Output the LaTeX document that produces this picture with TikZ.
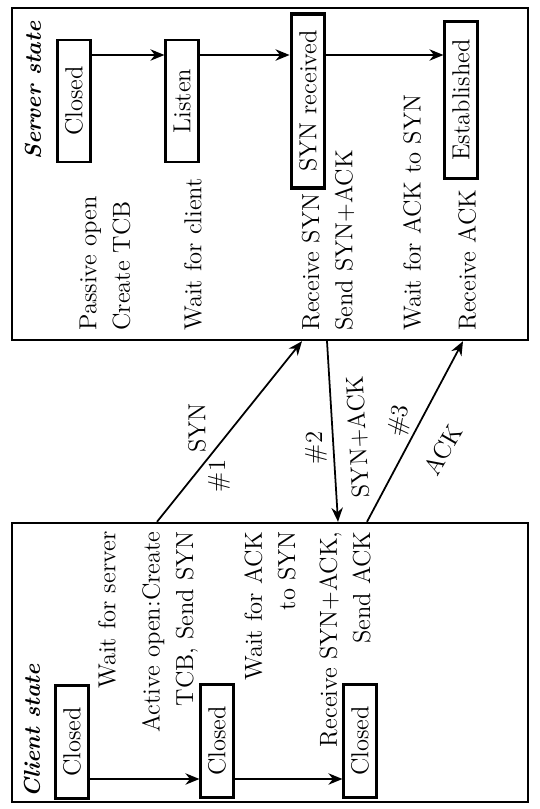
\documentclass[tikz,border=0pt]{standalone}
\usetikzlibrary{arrows.meta,calc}
\tikzset{
	frame/.style={shape=rectangle, draw, line width=1.4pt},
	stbox/.style={shape=rectangle, draw, line width=1.2pt, rotate=90, inner sep=2pt, minimum height=0.66cm, font=\fontsize{14}{16}\selectfont},
	txt/.style={rotate=90, inner sep=0pt, font=\fontsize{14}{19}\selectfont},
	ttl/.style={rotate=90, inner sep=0pt, font=\fontsize{13}{15}\selectfont\bfseries\itshape},
	lbl/.style={inner sep=0pt, font=\fontsize{14}{16}\selectfont},
	arr/.style={line width=1pt, -{Stealth[length=8pt, width=6.5pt]}},
}
\begin{document}
\begin{tikzpicture}[x=0.02cm, y=-0.02cm]
	\useasboundingbox (0,0) rectangle (540,809);
	% Frames:
	\node[frame, minimum width=10.32cm, minimum height=6.64cm] (server) at (270,174){};
	\node[frame, minimum width=10.32cm, minimum height=5.58cm] (client) at (270,662.5){};
	\node[ttl, anchor=west] (servertitle) at (33,160){Server state};
	\node[ttl, anchor=west] (clienttitle) at (32,798){Client state};
	% Server states:
	\node[stbox, minimum width=2.44cm] (sclosed) at (74,101){Closed};
	\node[stbox, minimum width=2.44cm] (slisten) at (182,101){Listen};
	\node[stbox, minimum width=3.48cm, line width=2.2pt] (ssynrcvd) at (308,101){SYN received};
	\node[stbox, minimum width=3.14cm] (sestab) at (461,100){Established};
	\coordinate (srow) at (0,55);
	\draw[arr] (sclosed.south |- srow) -- (slisten.north |- srow);
	\draw[arr] (slisten.south |- srow) -- (ssynrcvd.north |- srow);
	\draw[arr] (ssynrcvd.south |- srow) -- (sestab.north |- srow);
	\node[txt, anchor=west, align=left] (spassive) at (105,331){Passive open\\Create TCB};
	\node[txt, anchor=west] (swait) at (193,331){Wait for client};
	\node[txt, anchor=west, align=left] (srecv) at (328,331){Receive SYN\\Send SYN+ACK};
	\node[txt, anchor=west] (swaitack) at (412,331){Wait for ACK to SYN};
	\node[txt, anchor=west] (srecvack) at (467,331){Receive ACK};
	% Client states:
	\node[stbox, minimum width=2.26cm] (cclosedA) at (72,742){Closed};
	\node[stbox, minimum width=2.26cm] (cclosedB) at (217,741){Closed};
	\node[stbox, minimum width=2.26cm] (cclosedC) at (360,741){Closed};
	\coordinate (crow) at (0,779);
	\draw[arr] (cclosedA.south |- crow) -- (cclosedB.north |- crow);
	\draw[arr] (cclosedB.south |- crow) -- (cclosedC.north |- crow);
	\node[txt, anchor=east] (cwait) at (107,531){Wait for server};
	\node[txt, anchor=east, align=right] (cactive) at (170,531){Active open:Create\\TCB, Send SYN};
	\node[txt, anchor=east, align=right] (cwaitack) at (270,531){Wait for ACK\\to SYN};
	\node[txt, anchor=east, align=right] (crecv) at (345,531){Receive SYN+ACK,\\Send ACK};
	% Segments:
	\coordinate (synA) at (157,0 |- client.north);
	\coordinate (synB) at (302,0 |- server.south);
	\coordinate (synackA) at (327,0 |- server.south);
	\coordinate (synackB) at (338,0 |- client.north);
	\coordinate (ackA) at (367,0 |- client.north);
	\coordinate (ackB) at (463,0 |- server.south);
	\draw[arr] (synA) -- (synB);
	\draw[arr] (synackA) -- (synackB);
	\draw[arr] (ackA) -- (ackB);
	\node[lbl, rotate=90] (synlbl) at (197,428){SYN};
	\node[lbl, rotate=90] (synnum) at (219,476){\#1};
	\node[lbl, rotate=93] (synacklbl) at (358,437){SYN+ACK};
	\node[lbl, rotate=90] (synacknum) at (316,448){\#2};
	\node[lbl, rotate=80] (acknum) at (400,421){\#3};
	\node[lbl, rotate=60] (acklbl) at (443,450){ACK};
\end{tikzpicture}
\end{document}
